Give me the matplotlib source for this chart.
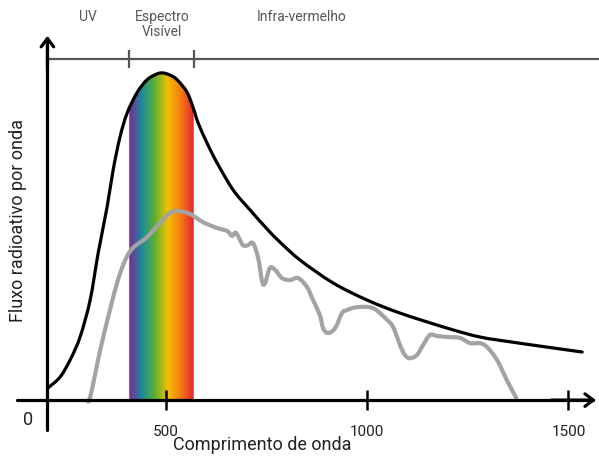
import numpy as np
import matplotlib
matplotlib.use("Agg")
import matplotlib.pyplot as plt
from matplotlib.colors import LinearSegmentedColormap
from matplotlib.path import Path
from matplotlib.patches import PathPatch

plt.rcParams['font.family'] = ['Roboto', 'DejaVu Sans']

# black curve (theoretical flux), wavelength in nm, flux normalised to peak
black_x = [208, 238, 263, 288, 313, 333, 355, 370, 387, 405, 429, 454, 479, 494, 512, 529,
           553, 568, 581, 603, 628, 668, 710, 752, 784, 834, 916, 1000, 1082, 1199, 1280,
           1362, 1447, 1534]
black_y = [0.037, 0.070, 0.122, 0.193, 0.306, 0.450, 0.590, 0.703, 0.804, 0.878, 0.939,
           0.979, 0.997, 1.0, 0.993, 0.979, 0.942, 0.896, 0.847, 0.786, 0.725, 0.642, 0.581,
           0.523, 0.483, 0.428, 0.358, 0.306, 0.266, 0.220, 0.193, 0.177, 0.162, 0.147]

# gray curve (measured flux at surface)
gray_x = [305, 313, 338, 362, 382, 400, 419, 454, 486, 511, 531, 561, 593, 628, 653, 665,
          675, 692, 705, 717, 730, 740, 747, 759, 772, 789, 809, 829, 851, 866, 883, 891,
          903, 921, 938, 950, 975, 1015, 1050, 1065, 1082, 1094, 1107, 1124, 1139, 1156,
          1174, 1199, 1231, 1256, 1280, 1298, 1323, 1347, 1372]
gray_y = [0.0, 0.009, 0.153, 0.275, 0.367, 0.428, 0.465, 0.498, 0.541, 0.572, 0.578, 0.569,
          0.544, 0.526, 0.517, 0.502, 0.511, 0.474, 0.474, 0.480, 0.434, 0.361, 0.358, 0.404,
          0.398, 0.373, 0.367, 0.373, 0.346, 0.306, 0.260, 0.220, 0.205, 0.220, 0.266, 0.275,
          0.284, 0.281, 0.245, 0.223, 0.168, 0.138, 0.128, 0.138, 0.168, 0.199, 0.196, 0.193,
          0.190, 0.174, 0.174, 0.162, 0.122, 0.061, 0.003]

visible = [410, 570]
xticks = [500, 1000, 1500]
rainbow = ['#7a2a9a', '#1b8a9c', '#5db130', '#f6be00', '#f47a14', '#e32630']


def smooth_path(xs, ys):
    # draw the points as a smooth bezier path (catmull-rom style handles)
    p = np.column_stack([xs, ys]).astype(float)
    verts = [p[0]]
    codes = [Path.MOVETO]
    for i in range(len(p) - 1):
        p0 = p[max(i - 1, 0)]
        p3 = p[min(i + 2, len(p) - 1)]
        c1 = p[i] + (p[i + 1] - p0) / 6
        c2 = p[i + 1] - (p3 - p[i]) / 6
        verts += [c1, c2, p[i + 1]]
        codes += [Path.CURVE4] * 3
    return Path(verts, codes)


fig = plt.figure(figsize=(5.99, 4.59), dpi=100)
ax = fig.add_axes([0, 0, 1, 1])
ax.set_xlim(89.3, 1575.7)
ax.set_ylim(-0.180, 1.223)
ax.axis('off')

# rainbow band under the black curve
bx = np.array(black_x, dtype=float)
by = np.array(black_y)
inside = (bx > visible[0]) & (bx < visible[1])
outline = np.vstack([[visible[0], 0], [visible[0], np.interp(visible[0], bx, by)],
                     np.column_stack([bx, by])[inside],
                     [visible[1], np.interp(visible[1], bx, by)], [visible[1], 0]])
clip = plt.Polygon(outline, transform=ax.transData, facecolor='none', edgecolor='none')
ax.add_patch(clip)
cmap = LinearSegmentedColormap.from_list('rb', rainbow)
grad = np.linspace(0, 1, 256).reshape(1, -1)
im = ax.imshow(grad, cmap=cmap, extent=[visible[0], visible[1], 0, 1.05],
               aspect='auto', zorder=1)
im.set_clip_path(clip)

ax.add_patch(PathPatch(smooth_path(black_x, black_y), facecolor='none', edgecolor='black',
                       lw=2.3, capstyle='round', joinstyle='round', zorder=3))
ax.add_patch(PathPatch(smooth_path(gray_x, gray_y), facecolor='none', edgecolor='#a3a3a3',
                       lw=3, joinstyle='round', zorder=3))

# axes with arrows
ax.plot([207, 207], [-0.09, 1.10], color='black', lw=2.3, zorder=4, solid_capstyle='round')
ax.annotate('', xy=(207, 1.122), xytext=(207, 1.0),
            arrowprops=dict(arrowstyle='->,head_length=0.6,head_width=0.45', lw=2.3, color='black'))
ax.plot([131, 1560], [0, 0], color='black', lw=2.3, zorder=4, solid_capstyle='round')
ax.annotate('', xy=(1575, 0), xytext=(1450, 0),
            arrowprops=dict(arrowstyle='->,head_length=0.6,head_width=0.45', lw=2.3, color='black'))
ax.vlines(xticks, -0.03, 0.03, color='black', lw=1.8, zorder=4)
for t in xticks:
    ax.text(t, -0.098, str(t), ha='center', va='center', fontsize=11, color='#222222')
ax.text(158, -0.062, '0', ha='center', va='center', fontsize=13, color='#222222')

ax.text(740, -0.138, 'Comprimento de onda', ha='center', va='center', fontsize=13, color='#222222')
ax.text(133, 0.55, 'Fluxo radioativo por onda', ha='center', va='center', fontsize=13,
        rotation=90, color='#222222')

# top band
ax.plot([207, 1576], [1.043, 1.043], color='#555555', lw=1.6)
ax.vlines(visible, 1.015, 1.070, color='#555555', lw=1.6)
ax.text(308, 1.171, 'UV', ha='center', va='center', fontsize=10, color='#555555')
ax.text(491, 1.171, 'Espectro', ha='center', va='center', fontsize=10, color='#555555')
ax.text(491, 1.125, 'Visível', ha='center', va='center', fontsize=10, color='#555555')
ax.text(839, 1.171, 'Infra-vermelho', ha='center', va='center', fontsize=10, color='#555555')

fig.savefig('out.png', dpi=100)
